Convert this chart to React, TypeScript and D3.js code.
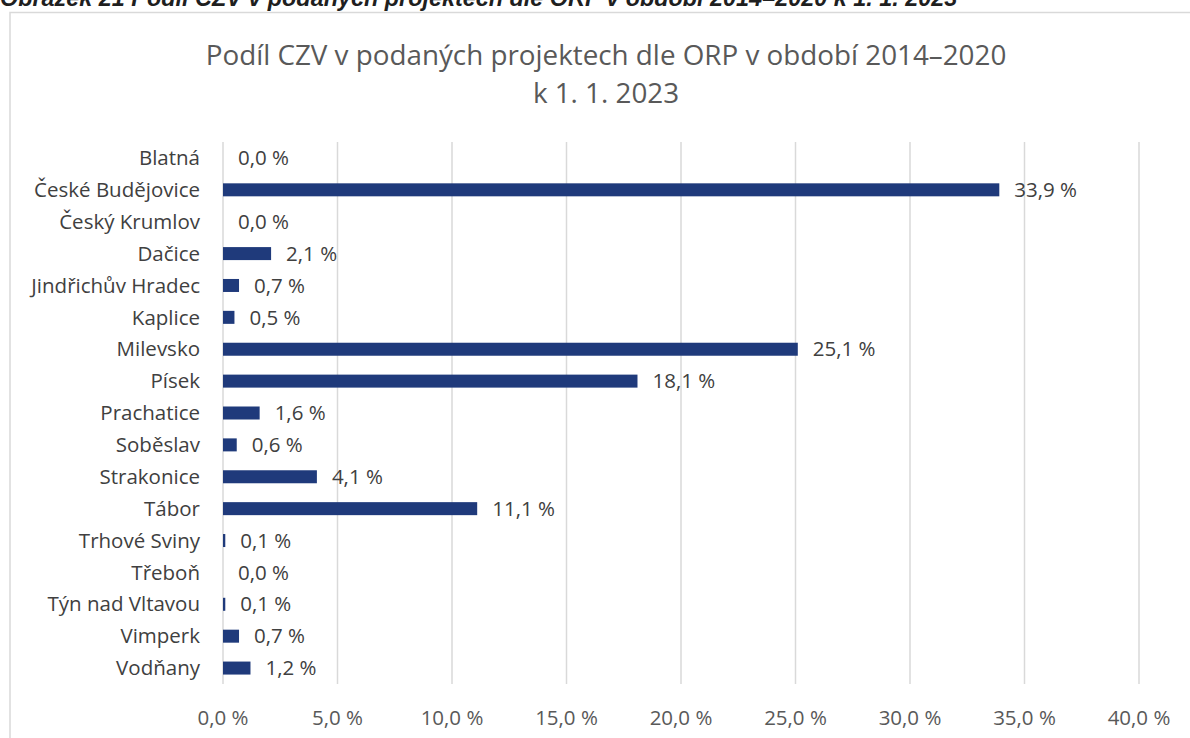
import React from "react";
import * as d3 from "d3";

const categories = [
  "Blatná",
  "České Budějovice",
  "Český Krumlov",
  "Dačice",
  "Jindřichův Hradec",
  "Kaplice",
  "Milevsko",
  "Písek",
  "Prachatice",
  "Soběslav",
  "Strakonice",
  "Tábor",
  "Trhové Sviny",
  "Třeboň",
  "Týn nad Vltavou",
  "Vimperk",
  "Vodňany",
];
const values = [0.0, 33.9, 0.0, 2.1, 0.7, 0.5, 25.1, 18.1, 1.6, 0.6, 4.1, 11.1, 0.1, 0.0, 0.1, 0.7, 1.2];
const xTicks = [0, 5, 10, 15, 20, 25, 30, 35, 40];
const titleLines = ["Podíl CZV v podaných projektech dle ORP v období 2014–2020", "k 1. 1. 2023"];
const caption = "Obrázek 21 Podíl CZV v podaných projektech dle ORP v období 2014–2020 k 1. 1. 2023";

const W = 1190;
const H = 738;
const FONT = "'Open Sans', 'Noto Sans', sans-serif";
const fmt = (v: number) => v.toFixed(1).replace(".", ",") + " %";

export default function App() {
  const x = d3.scaleLinear().domain([0, 40]).range([223, 1139]);
  const y = d3.scaleBand<string>().domain(categories).range([142, 684]).paddingInner(0.6).paddingOuter(0.3);
  const barH = 13;
  const fs = 20.5;

  return (
    <div style={{ position: "absolute", left: 0, top: 0 }}>
      <svg width={W} height={H} style={{ display: "block", background: "#fff" }}>
        <text x={0} y={6} fontFamily="'Liberation Sans', Arial, sans-serif" fontWeight="bold" fontStyle="italic" fontSize={23.4} fill="#1f1f1f">
          {caption}
        </text>
        {/* chart frame */}
        <path d={`M10,${H + 2} L10,12.5 L${W + 2},12.5`} fill="none" stroke="#d9d9d9" strokeWidth={1.5} />
        {titleLines.map((t, i) => (
          <text key={i} x={606} y={65 + i * 38} textAnchor="middle" fontFamily={FONT} fontSize={27.8} fill="#595959">
            {t}
          </text>
        ))}
        {xTicks.map((t) => (
          <g key={t}>
            <line x1={x(t)} x2={x(t)} y1={142} y2={684} stroke="#d9d9d9" strokeWidth={1.5} />
            <text x={x(t)} y={725} textAnchor="middle" fontFamily={FONT} fontSize={fs} fill="#595959">
              {fmt(t)}
            </text>
          </g>
        ))}
        {categories.map((c, i) => {
          const cy = (y(c) as number) + y.bandwidth() / 2;
          const v = values[i];
          return (
            <g key={c}>
              <text x={200} y={cy} dy="0.35em" textAnchor="end" fontFamily={FONT} fontSize={fs} fill="#404040">
                {c}
              </text>
              {v > 0 && (
                <rect x={x(0)} y={cy - barH / 2} width={x(v) - x(0)} height={barH} fill="#1f3a7b" />
              )}
              <text x={x(v) + 15} y={cy} dy="0.35em" fontFamily={FONT} fontSize={fs} fill="#404040">
                {fmt(v)}
              </text>
            </g>
          );
        })}
      </svg>
    </div>
  );
}
